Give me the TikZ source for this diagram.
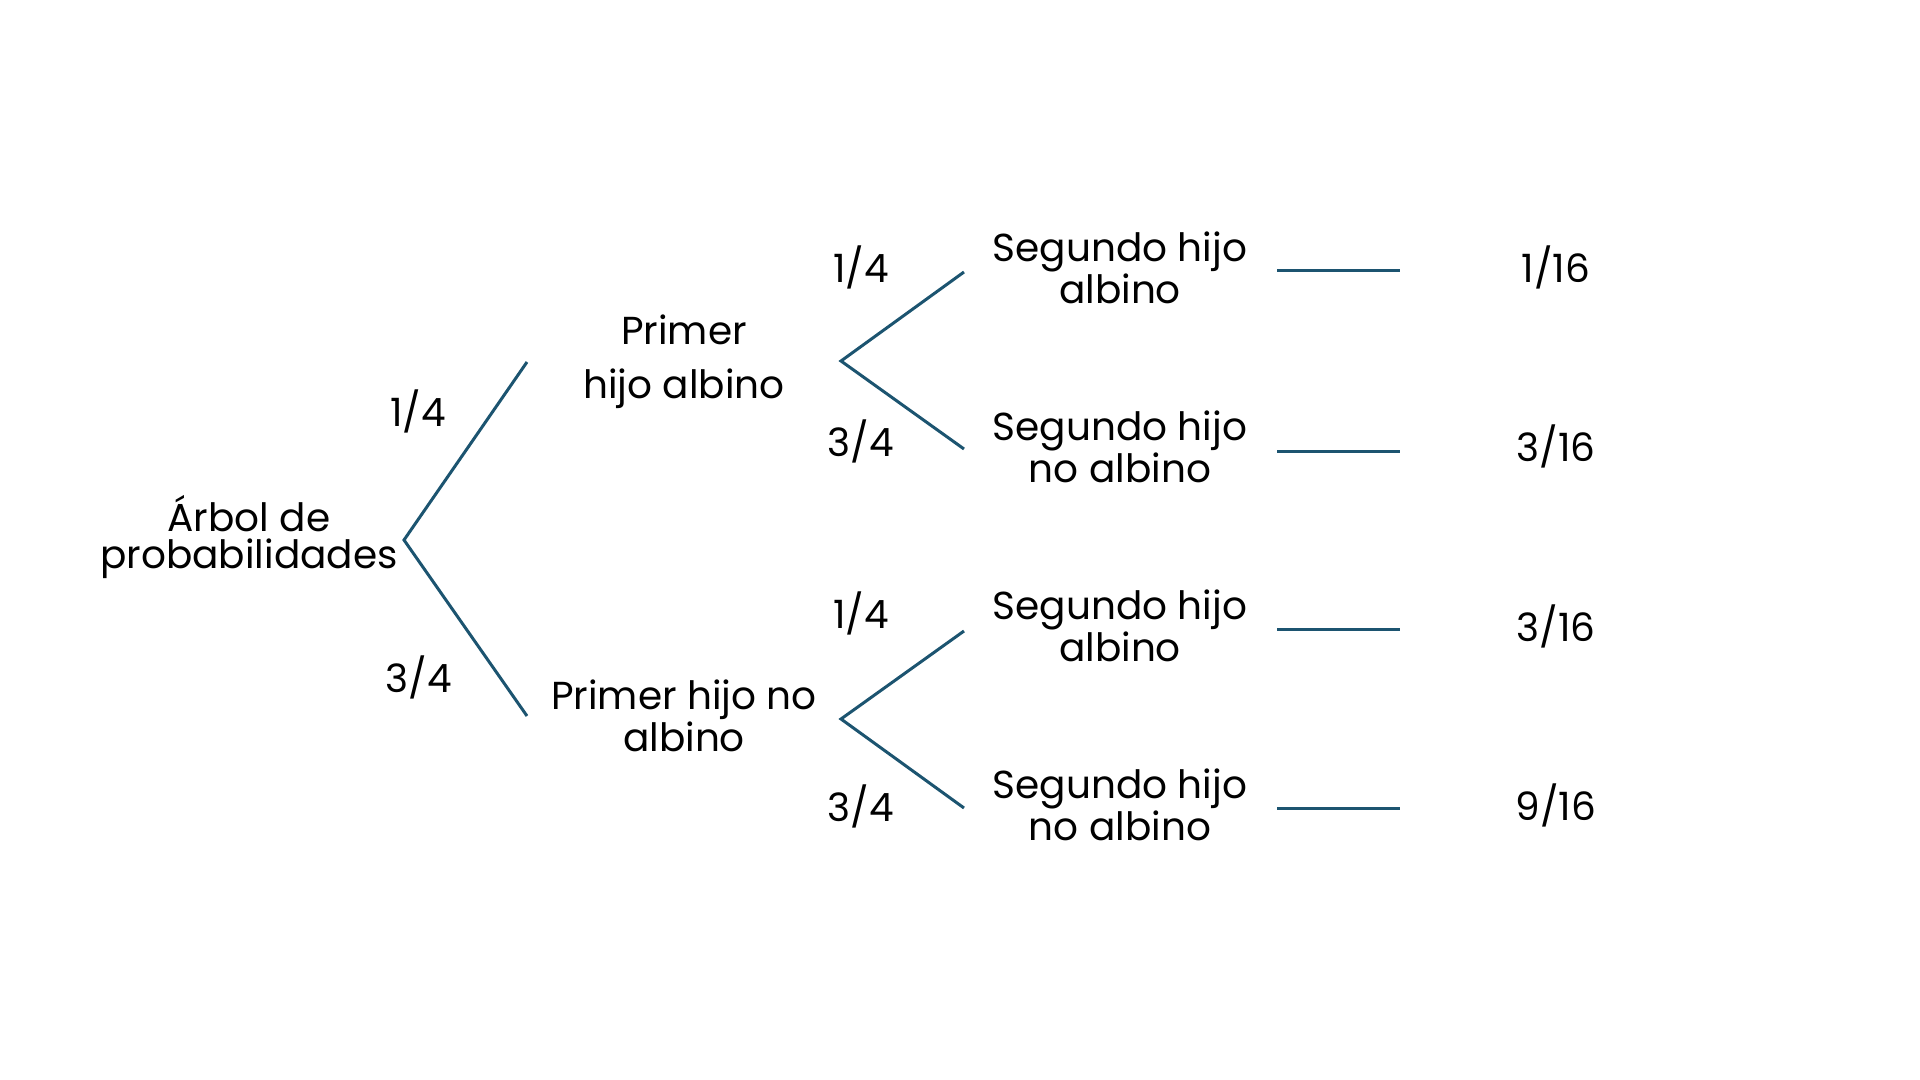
\documentclass[tikz,border=0pt]{standalone}
\usepackage{fontspec}
\setmainfont{Poppins}
\usetikzlibrary{positioning}
\definecolor{treeblue}{RGB}{28,84,112}

\begin{document}
\begin{tikzpicture}[x=0.5pt, y=-0.5pt,
  branch/.style={draw=treeblue, line width=1.5pt},
  event/.style={align=center, inner sep=0pt, font=\fontsize{19.5}{18.5}\selectfont},
  prob/.style={inner sep=0pt, font=\fontsize{19.5}{19.5}\selectfont}]
  \useasboundingbox (0,0) rectangle (1920,1080);

  % root
  \node[event] (root) at (249,537) {Árbol de\\probabilidades};
  \coordinate (fork0) at (404,540);
  \coordinate (up1) at (527,362);
  \coordinate (dn1) at (527,716);
  \node[prob] (p1) at (418,411) {1/4};
  \node[prob] (p2) at (419,677) {3/4};

  % first child
  \node[event, font=\fontsize{19.5}{27}\selectfont] (first1) at (684,362) {Primer\\hijo albino};
  \node[event] (first2) at (684,716) {Primer hijo no\\albino};
  \coordinate (fork1) at (841,361);
  \coordinate (fork2) at (841,719);

  % second child
  \coordinate (e11) at (964,272);
  \coordinate (e12) at (964,449);
  \coordinate (e21) at (964,631);
  \coordinate (e22) at (964,808);
  \node[prob] (p11) at (861,267) {1/4};
  \node[prob] (p12) at (861,441) {3/4};
  \node[prob] (p21) at (861,613) {1/4};
  \node[prob] (p22) at (861,806) {3/4};
  \node[event] (s11) at (1120,268) {Segundo hijo\\albino};
  \node[event] (s12) at (1120,447) {Segundo hijo\\no albino};
  \node[event] (s21) at (1120,626) {Segundo hijo\\albino};
  \node[event] (s22) at (1120,805) {Segundo hijo\\no albino};

  % results
  \node[prob] (r1) at (1556,267) {1/16};
  \node[prob] (r2) at (1556,446) {3/16};
  \node[prob] (r3) at (1556,626) {3/16};
  \node[prob] (r4) at (1556,805) {9/16};

  \draw[branch] (up1) -- (fork0) -- (dn1);
  \draw[branch] (e11) -- (fork1) -- (e12);
  \draw[branch] (e21) -- (fork2) -- (e22);
  \foreach \i/\y in {1/271, 2/451, 3/629, 4/808} {
    \coordinate (la\i) at (1277,\y);
    \coordinate (lb\i) at (1400,\y);
    \draw[branch] (la\i) -- (lb\i);
  }
\end{tikzpicture}
\end{document}
